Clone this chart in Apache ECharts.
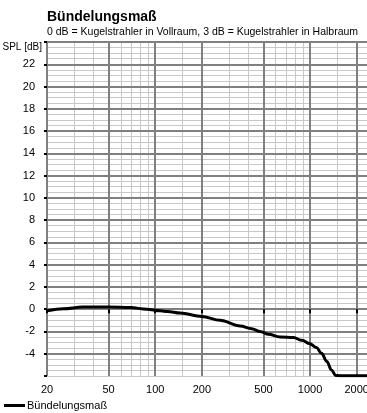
<!DOCTYPE html>
<html>
<head>
<meta charset="utf-8">
<script src="https://cdn.jsdelivr.net/npm/echarts@6/dist/echarts.min.js"></script>
<style>html,body{margin:0;padding:0;background:#fff;}#c{width:367px;height:413px;}</style>
</head>
<body>
<div id="c"></div>
<script>
var titleText = 'Bündelungsmaß';
var subtitleText = '0 dB = Kugelstrahler in Vollraum, 3 dB = Kugelstrahler in Halbraum';
var yName = 'SPL [dB]';
var seriesName = 'Bündelungsmaß';
var freqs  = [20, 25.5, 34, 50, 69, 88, 108, 120, 145, 200, 262, 354, 420, 475, 540, 639, 782, 887, 995, 1100, 1185, 1284, 1374, 1462, 1550, 2000, 2331];
var values = [-0.15, 0.04, 0.19, 0.19, 0.15, 0.0, -0.15, -0.2, -0.35, -0.65, -1.0, -1.5, -1.75, -2.0, -2.25, -2.5, -2.55, -2.8, -3.1, -3.45, -3.95, -4.7, -5.45, -5.95, -5.98, -5.98, -5.98];
var xMajorTicks = [20, 50, 100, 200, 500, 1000, 2000];
var xMinorTicks = [30, 40, 60, 70, 80, 90, 150, 300, 400, 600, 700, 800, 900, 1500];
var xMin = 20, xMax = 2331;
var yMin = -6, yMax = 24, yStep = 2, yMinorStep = 0.5;

var FONT = 'Liberation Sans';
var lg = function (v) { return Math.log10(v); };
var data = freqs.map(function (f, i) { return [lg(f), values[i]]; });
var nMajorY = Math.round((yMax - yMin) / yStep) + 1;
var yLineColors = [];
for (var i = 0; i < nMajorY; i++) yLineColors.push(i === 0 ? 'rgba(0,0,0,0)' : '#808080');

var chart = echarts.init(document.getElementById('c'), null, {renderer: 'canvas'});
chart.setOption({
  backgroundColor: '#fff',
  animation: false,
  textStyle: {fontFamily: FONT},
  title: {
    text: titleText, subtext: subtitleText,
    left: 42, top: 5, itemGap: 3,
    textStyle: {fontFamily: FONT, fontSize: 14, fontWeight: 'bold', color: '#000'},
    subtextStyle: {fontFamily: FONT, fontSize: 10.5, color: '#000'}
  },
  legend: {
    left: 4, bottom: 2, padding: 0, itemWidth: 21, itemHeight: 3, icon: 'rect',
    data: [seriesName],
    textStyle: {fontFamily: FONT, fontSize: 11, color: '#000', padding: [0, 0, 0, -3]}
  },
  grid: {left: 47, right: 0, top: 42, bottom: 37, containLabel: false, outerBoundsMode: 'none'},
  xAxis: [{
    type: 'value', min: lg(xMin), max: lg(xMax), z: 1,
    axisLine: {show: false},
    axisTick: {show: true, inside: false, length: 4, customValues: xMajorTicks.map(lg), lineStyle: {color: '#000', width: 2}},
    axisLabel: {customValues: xMajorTicks.map(lg), margin: 8, fontSize: 11, color: '#000', fontFamily: FONT,
      formatter: function (v) { return String(Math.round(Math.pow(10, v))); }},
    splitLine: {show: true, lineStyle: {color: '#808080', width: 2}}
  }, {
    type: 'value', min: lg(xMin), max: lg(xMax), z: -1,
    axisLine: {show: false},
    axisTick: {show: true, length: 0, customValues: xMinorTicks.map(lg), lineStyle: {color: 'rgba(0,0,0,0)'}},
    axisLabel: {show: false, customValues: xMinorTicks.map(lg)},
    splitLine: {show: true, lineStyle: {color: '#c8c8c8', width: 1}}
  }],
  yAxis: [{
    type: 'value', min: yMin, max: yMax, interval: yStep, z: 1,
    name: yName, nameLocation: 'end', nameGap: -5,
    nameTextStyle: {fontFamily: FONT, fontSize: 10, color: '#000', align: 'right', verticalAlign: 'middle', padding: [0, 5, 0, 0]},
    axisLine: {show: false},
    axisTick: {show: true, length: 3, lineStyle: {color: '#000', width: 2}},
    axisLabel: {margin: 12, fontSize: 11, color: '#000', fontFamily: FONT,
      formatter: function (v) { return (v === yMin || v === yMax) ? '' : String(v); }},
    splitLine: {show: true, lineStyle: {color: yLineColors, width: 2}}
  }, {
    type: 'value', min: yMin, max: yMax, interval: yMinorStep, z: -1, position: 'left',
    axisLine: {show: false}, axisTick: {show: false}, axisLabel: {show: false},
    splitLine: {show: true, lineStyle: {color: '#c8c8c8', width: 1}}
  }],
  series: [{
    name: seriesName, type: 'line', xAxisIndex: 0, yAxisIndex: 0,
    data: data, showSymbol: false, symbol: 'none', smooth: 0.35, smoothMonotone: 'x',
    lineStyle: {color: '#000', width: 3}, itemStyle: {color: '#000'}, z: 5
  }]
});
</script>
</body>
</html>
